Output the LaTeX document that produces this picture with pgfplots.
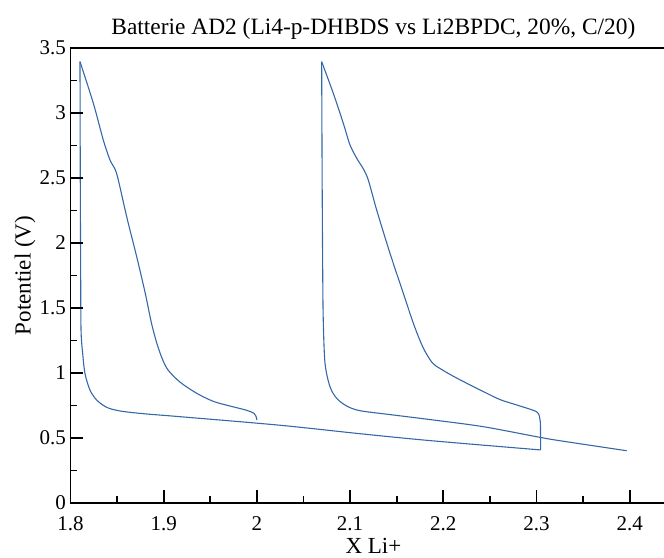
\documentclass[border=0pt]{standalone}
\usepackage{fontspec}
\setmainfont{Liberation Serif}
\usepackage{pgfplots}
\pgfplotsset{compat=1.18}
\definecolor{curve}{RGB}{52,104,168}
\definecolor{tickc}{RGB}{0,0,0}
\begin{document}
\begin{tikzpicture}
\begin{axis}[
  name=ax,
  scale only axis,
  width=605.8pt, height=455pt,
  xmin=1.8, xmax=2.45, ymin=0, ymax=3.5,
  clip=false,
  xtick={1.8,1.9,2,2.1,2.2,2.3,2.4},
  xticklabels={1.8,1.9,2,2.1,2.2,2.3,2.4},
  ytick={0,0.5,1,1.5,2,2.5,3,3.5},
  yticklabels={0,0.5,1,1.5,2,2.5,3,3.5},
  tick align=inside, tick pos=left,
  major tick length=0pt, minor tick length=0pt,
  axis line style={line width=1.6pt},
  /pgf/number format/assume math mode=true,
  tick label style={font=\fontsize{21}{24}\selectfont},
  xticklabel style={anchor=base, yshift=-27pt},
  yticklabel style={anchor=east, xshift=-1pt},
  title={Batterie AD2 (Li4-p-DHBDS vs Li2BPDC, 20\%, C/20)},
  title style={font=\fontsize{23.4}{27}\selectfont, at={(axis description cs:0.5,1)}, anchor=base, yshift=7pt},
  xlabel={X Li+},
  xlabel style={font=\fontsize{23}{27}\selectfont, at={(axis description cs:0.5,0)}, anchor=base, yshift=-50pt},
  ylabel={Potentiel (V)},
  ylabel style={font=\fontsize{23}{27}\selectfont, at={(axis description cs:-0.066,0.5)}, anchor=base},
]
% charge 1
\addplot[curve, line width=1.1pt, smooth, tension=0.5] coordinates {
(2.0000,0.638)
(1.9990,0.668)
(1.9969,0.690)
(1.9891,0.713)
(1.9711,0.746)
(1.9532,0.782)
(1.9354,0.844)
(1.9175,0.930)
(1.9050,1.020)
(1.8990,1.100)
(1.8930,1.220)
(1.8870,1.380)
(1.8800,1.620)
(1.8710,1.895)
(1.8603,2.202)
(1.8513,2.485)
(1.8477,2.570)
(1.8424,2.638)
(1.8352,2.792)
(1.8245,3.075)
(1.8102,3.395)
};
% relaxation + discharge 1
\addplot[curve, line width=1.1pt, smooth, tension=0.5] coordinates {
(1.8102,3.395)
(1.8105,2.5)
(1.8109,1.8)
(1.8113,1.331)
(1.8131,1.148)
(1.8156,0.994)
(1.8209,0.869)
(1.8281,0.792)
(1.8388,0.736)
(1.8531,0.708)
(1.8781,0.687)
(1.9175,0.664)
(2.0250,0.598)
(2.1106,0.533)
(2.1857,0.480)
(2.3045,0.408)
};
% charge 2
\addplot[curve, line width=1.1pt, smooth, tension=0.5] coordinates {
(2.3045,0.408)
(2.3043,0.550)
(2.3040,0.630)
(2.3019,0.690)
(2.2966,0.713)
(2.2788,0.754)
(2.2610,0.795)
(2.2450,0.850)
(2.2287,0.908)
(2.2100,0.978)
(2.1964,1.035)
(2.1880,1.080)
(2.1780,1.200)
(2.1680,1.380)
(2.1571,1.613)
(2.1428,1.921)
(2.1285,2.254)
(2.1195,2.485)
(2.1142,2.570)
(2.1071,2.652)
(2.0999,2.754)
(2.0927,2.921)
(2.0820,3.151)
(2.0695,3.395)
};
% relaxation + discharge 2
\addplot[curve, line width=1.1pt, smooth, tension=0.5] coordinates {
(2.0695,3.395)
(2.0700,2.5)
(2.0706,1.8)
(2.0712,1.408)
(2.0731,1.075)
(2.0784,0.895)
(2.0856,0.805)
(2.0964,0.746)
(2.1106,0.710)
(2.1464,0.677)
(2.1900,0.638)
(2.2429,0.587)
(2.3038,0.505)
(2.3252,0.479)
(2.3968,0.402)
};
% tick marks (axis decoration), drawn last
\draw[tickc, line width=1.8pt]
  (axis cs:1.85,0) -- ++(0pt,7pt)
  (axis cs:1.95,0) -- ++(0pt,7pt)
  (axis cs:2.05,0) -- ++(0pt,7pt)
  (axis cs:2.15,0) -- ++(0pt,7pt)
  (axis cs:2.25,0) -- ++(0pt,7pt)
  (axis cs:2.35,0) -- ++(0pt,7pt)
  (axis cs:1.8,0.25) -- ++(7pt,0pt)
  (axis cs:1.8,0.75) -- ++(7pt,0pt)
  (axis cs:1.8,1.25) -- ++(7pt,0pt)
  (axis cs:1.8,1.75) -- ++(7pt,0pt)
  (axis cs:1.8,2.25) -- ++(7pt,0pt)
  (axis cs:1.8,2.75) -- ++(7pt,0pt)
  (axis cs:1.8,3.25) -- ++(7pt,0pt)
  (axis cs:1.9,0) -- ++(0pt,13pt)
  (axis cs:2.0,0) -- ++(0pt,13pt)
  (axis cs:2.1,0) -- ++(0pt,13pt)
  (axis cs:2.2,0) -- ++(0pt,13pt)
  (axis cs:2.3,0) -- ++(0pt,13pt)
  (axis cs:2.4,0) -- ++(0pt,13pt)
  (axis cs:1.8,0.5) -- ++(13pt,0pt)
  (axis cs:1.8,1.0) -- ++(13pt,0pt)
  (axis cs:1.8,1.5) -- ++(13pt,0pt)
  (axis cs:1.8,2.0) -- ++(13pt,0pt)
  (axis cs:1.8,2.5) -- ++(13pt,0pt)
  (axis cs:1.8,3.0) -- ++(13pt,0pt);
\end{axis}
\pgfresetboundingbox
\path[use as bounding box] ([xshift=-70.5pt,yshift=-54pt]ax.south west) rectangle ([xshift=593.5pt,yshift=503pt]ax.south west);
\end{tikzpicture}
\end{document}
